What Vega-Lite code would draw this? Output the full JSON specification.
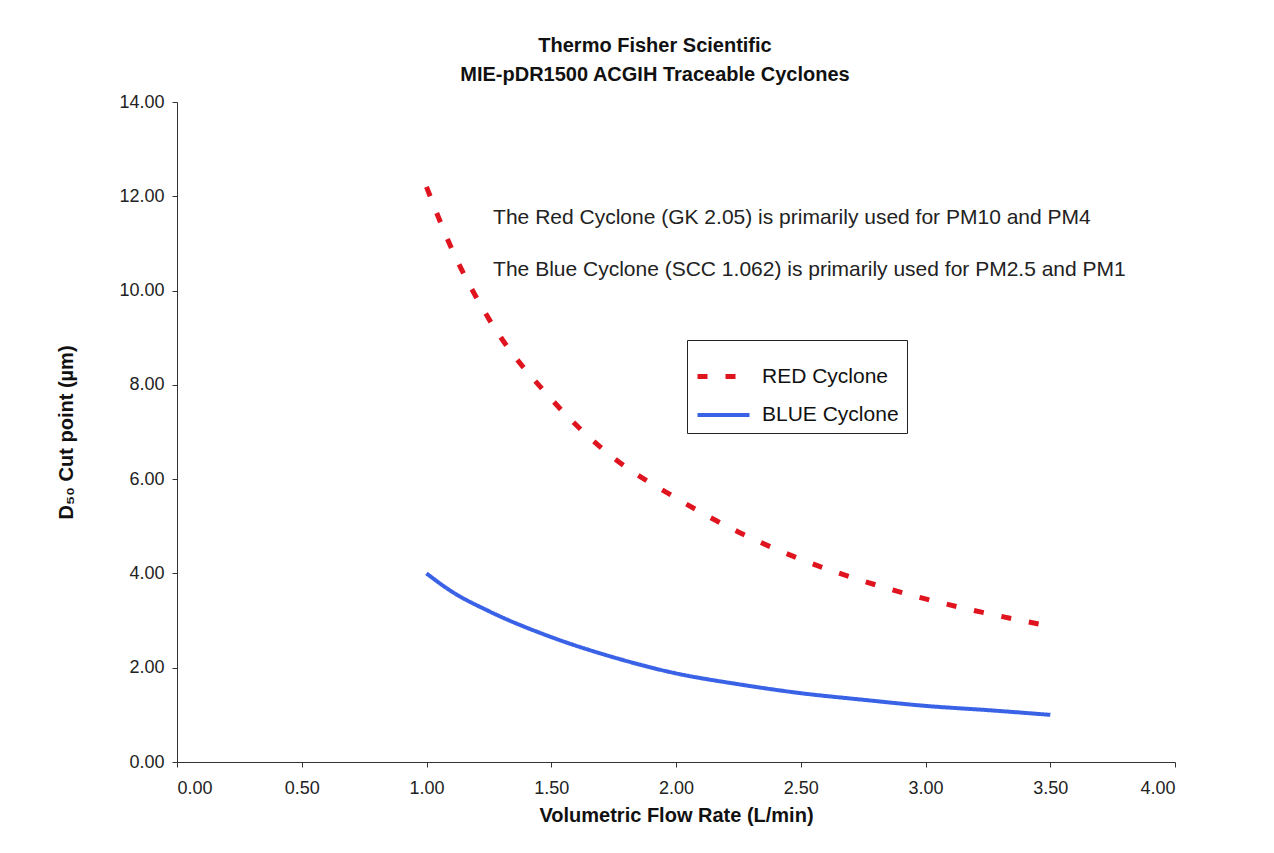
{
  "$schema": "https://vega.github.io/schema/vega-lite/v6.json",
  "autosize": {"type": "none"},
  "width": 998,
  "height": 660,
  "padding": {"left": 177, "top": 102, "right": 99, "bottom": 91},
  "background": "white",
  "config": {
    "font": "Liberation Sans",
    "view": {"stroke": null},
    "axis": {"grid": false, "domainColor": "#333333", "tickColor": "#333333", "labelColor": "#222222", "titleColor": "#111111", "labelFont": "Liberation Sans", "titleFont": "Liberation Sans"}
  },
  "title": {
    "text": ["Thermo Fisher Scientific", "MIE-pDR1500 ACGIH Traceable Cyclones"],
    "fontSize": 20,
    "fontWeight": "bold",
    "font": "Liberation Sans",
    "lineHeight": 29,
    "anchor": "middle",
    "dx": -21,
    "offset": 8,
    "color": "#111111"
  },
  "datasets": {
    "curves": [
      {"flow": 1.0, "d50": 12.2, "series": "RED Cyclone"},
      {"flow": 1.1, "d50": 10.9, "series": "RED Cyclone"},
      {"flow": 1.25, "d50": 9.4, "series": "RED Cyclone"},
      {"flow": 1.5, "d50": 7.7, "series": "RED Cyclone"},
      {"flow": 1.75, "d50": 6.45, "series": "RED Cyclone"},
      {"flow": 2.0, "d50": 5.6, "series": "RED Cyclone"},
      {"flow": 2.25, "d50": 4.88, "series": "RED Cyclone"},
      {"flow": 2.5, "d50": 4.3, "series": "RED Cyclone"},
      {"flow": 2.75, "d50": 3.84, "series": "RED Cyclone"},
      {"flow": 3.0, "d50": 3.46, "series": "RED Cyclone"},
      {"flow": 3.25, "d50": 3.15, "series": "RED Cyclone"},
      {"flow": 3.5, "d50": 2.88, "series": "RED Cyclone"},
      {"flow": 1.0, "d50": 4.0, "series": "BLUE Cyclone"},
      {"flow": 1.1, "d50": 3.62, "series": "BLUE Cyclone"},
      {"flow": 1.25, "d50": 3.2, "series": "BLUE Cyclone"},
      {"flow": 1.5, "d50": 2.65, "series": "BLUE Cyclone"},
      {"flow": 1.75, "d50": 2.22, "series": "BLUE Cyclone"},
      {"flow": 2.0, "d50": 1.88, "series": "BLUE Cyclone"},
      {"flow": 2.25, "d50": 1.65, "series": "BLUE Cyclone"},
      {"flow": 2.5, "d50": 1.46, "series": "BLUE Cyclone"},
      {"flow": 2.75, "d50": 1.32, "series": "BLUE Cyclone"},
      {"flow": 3.0, "d50": 1.19, "series": "BLUE Cyclone"},
      {"flow": 3.25, "d50": 1.1, "series": "BLUE Cyclone"},
      {"flow": 3.5, "d50": 1.0, "series": "BLUE Cyclone"}
    ],
    "notes": [
      {"flow": 1.267, "d50": 11.54, "note": "The Red Cyclone (GK 2.05) is primarily used for PM10 and PM4"},
      {"flow": 1.267, "d50": 10.44, "note": "The Blue Cyclone (SCC 1.062) is primarily used for PM2.5 and PM1"}
    ]
  },
  "layer": [
    {
      "data": {"name": "curves"},
      "mark": {"type": "line", "interpolate": "monotone"},
      "encoding": {
        "x": {
          "field": "flow", "type": "quantitative",
          "scale": {"domain": [0, 4], "nice": false, "zero": false},
          "axis": {"values": [0, 0.5, 1, 1.5, 2, 2.5, 3, 3.5, 4], "format": ".2f", "title": "Volumetric Flow Rate (L/min)", "labelFontSize": 18, "titleFontSize": 20, "titleFontWeight": "bold", "labelPadding": 12, "titlePadding": 8, "tickSize": 5}
        },
        "y": {
          "field": "d50", "type": "quantitative",
          "scale": {"domain": [0, 14], "nice": false},
          "axis": {"values": [0, 2, 4, 6, 8, 10, 12, 14], "format": ".2f", "title": "D₅₀ Cut point (µm)", "labelFontSize": 18, "titleFontSize": 20, "titleFontWeight": "bold", "labelPadding": 8, "titlePadding": 42, "tickSize": 5}
        },
        "color": {
          "field": "series", "type": "nominal",
          "scale": {"domain": ["RED Cyclone", "BLUE Cyclone"], "range": ["#e0141e", "#3a62e6"]},
          "legend": {
            "title": null,
            "orient": "none",
            "legendX": 510,
            "legendY": 238,
            "direction": "vertical",
            "strokeColor": "#222222",
            "fillColor": "white",
            "padding": 8,
            "symbolType": "stroke",
            "symbolSize": 2704,
            "symbolStrokeWidth": 5,
            "labelFontSize": 21,
            "labelFont": "Liberation Sans",
            "labelColor": "#111111",
            "rowPadding": -10,
            "labelOffset": 10
          }
        },
        "strokeDash": {
          "field": "series", "type": "nominal",
          "scale": {"domain": ["RED Cyclone", "BLUE Cyclone"], "range": [[10, 18], [1, 0]]},
          "legend": null
        },
        "strokeWidth": {
          "field": "series", "type": "nominal",
          "scale": {"domain": ["RED Cyclone", "BLUE Cyclone"], "range": [5, 4]},
          "legend": null
        }
      }
    },
    {
      "data": {"name": "notes"},
      "mark": {"type": "text", "align": "left", "baseline": "middle", "fontSize": 21, "font": "Liberation Sans", "color": "#222222"},
      "encoding": {
        "x": {"field": "flow", "type": "quantitative"},
        "y": {"field": "d50", "type": "quantitative"},
        "text": {"field": "note"}
      }
    }
  ]
}
